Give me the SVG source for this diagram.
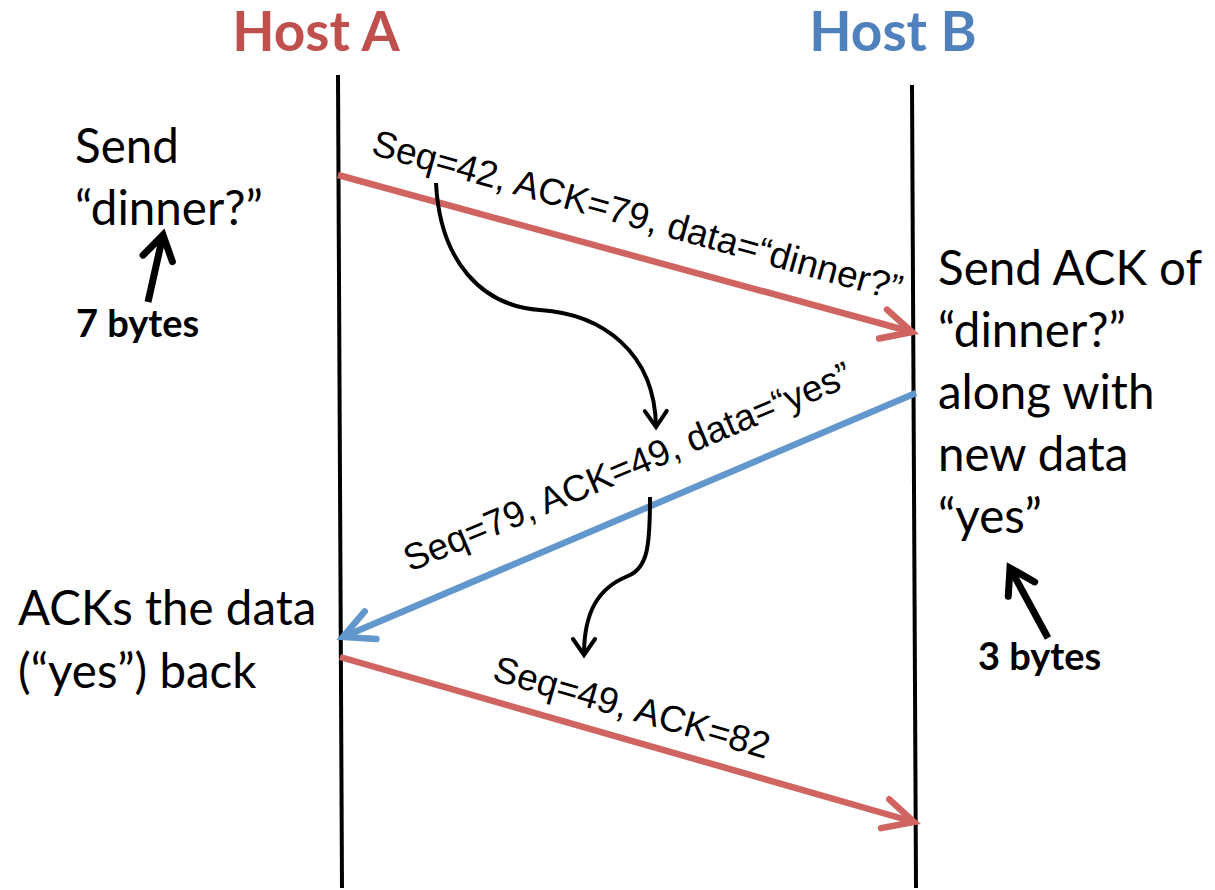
<svg xmlns="http://www.w3.org/2000/svg" width="1215" height="890" viewBox="0 0 1215 890">
<style>
.title{font-family:Lato,"Liberation Sans",sans-serif;font-weight:bold;font-size:55px;text-anchor:middle}
.side{font-family:Lato,"Liberation Sans",sans-serif;font-size:47.5px;fill:#000}
.bytes{font-family:Lato,"Liberation Sans",sans-serif;font-weight:bold;font-size:38px;fill:#000}
.lbl{font-family:"Liberation Sans",Arial,sans-serif;font-size:37px;fill:#000}
.life{stroke:#000;stroke-width:4;fill:none}
.red{stroke:#CF6460;stroke-width:6.5;fill:none;marker-end:url(#hr)}
.blue{stroke:#6297CD;stroke-width:6.5;fill:none;marker-end:url(#hb)}
.curve{stroke:#000;stroke-width:4;fill:none;marker-end:url(#hk)}
.size{stroke:#000;stroke-width:7;fill:none;marker-end:url(#hs)}
</style>
<defs>
<marker id="hr" markerUnits="userSpaceOnUse" orient="auto" markerWidth="60" markerHeight="60" viewBox="-40 -30 60 60" refX="0" refY="0" overflow="visible">
<path d="M-30,-15 L0,0 L-30,15" fill="none" stroke="#CF6460" stroke-width="6.5" stroke-linecap="round" stroke-linejoin="miter"/>
</marker>
<marker id="hb" markerUnits="userSpaceOnUse" orient="auto" markerWidth="60" markerHeight="60" viewBox="-40 -30 60 60" refX="0" refY="0" overflow="visible">
<path d="M-30,-15 L0,0 L-30,15" fill="none" stroke="#6297CD" stroke-width="6.5" stroke-linecap="round" stroke-linejoin="miter"/>
</marker>
<marker id="hk" markerUnits="userSpaceOnUse" orient="auto" markerWidth="60" markerHeight="60" viewBox="-40 -30 60 60" refX="0" refY="0" overflow="visible">
<path d="M-16,-11 L0,0 L-16,11" fill="none" stroke="#000" stroke-width="4" stroke-linecap="round" stroke-linejoin="miter"/>
</marker>
<marker id="hs" markerUnits="userSpaceOnUse" orient="auto" markerWidth="60" markerHeight="60" viewBox="-40 -30 60 60" refX="0" refY="0" overflow="visible">
<path d="M-24,-15 L0,0 L-24,15" fill="none" stroke="#000" stroke-width="7" stroke-linecap="round" stroke-linejoin="miter"/>
</marker>
</defs>

<g id="hostA">
<text class="title" x="316" y="51" fill="#C0504D">Host A</text>
<path class="life" d="M338,75 L342,888"/>
</g>
<g id="hostB">
<text class="title" x="893" y="51" fill="#4F81BD">Host B</text>
<path class="life" d="M912,85 L916,888"/>
</g>

<g id="noteA1">
<text class="side" x="75" y="163">Send</text>
<text class="side" x="75" y="225">“dinner?”</text>
</g>
<g id="note7">
<text class="bytes" x="76" y="337">7 bytes</text>
</g>
<g id="noteB">
<text class="side" x="938" y="285">Send ACK of</text>
<text class="side" x="938" y="347">“dinner?”</text>
<text class="side" x="938" y="409">along with</text>
<text class="side" x="938" y="471">new data</text>
<text class="side" x="938" y="533">“yes”</text>
</g>
<g id="note3">
<text class="bytes" x="978" y="670">3 bytes</text>
</g>
<g id="noteA2">
<text class="side" x="18" y="625">ACKs the data</text>
<text class="side" x="18" y="688">(“yes”) back</text>
</g>

<g id="connectors">
<path class="red" d="M338,175 L912,332"/>
<text class="lbl" transform="translate(370,154) rotate(15.6)">Seq=42, ACK=79, data=“dinner?”</text>
<path class="blue" d="M916,393 L343,637"/>
<text class="lbl" transform="translate(410,572) rotate(-22.9)">Seq=79, ACK=49, data=“yes”</text>
<path class="red" d="M340,657 L914,822"/>
<text class="lbl" transform="translate(491,680) rotate(16)">Seq=49, ACK=82</text>
<path class="curve" d="M436,183 C440,262 482,306 540,310 C602,314 655,352 656,427"/>
<path class="curve" d="M650,497 C650,545 648,568 628,576 C598,588 584,612 584,655"/>
<path class="size" d="M148,302 L163,235"/>
<path class="size" d="M1048,638 L1010,568"/>
</g>
</svg>
